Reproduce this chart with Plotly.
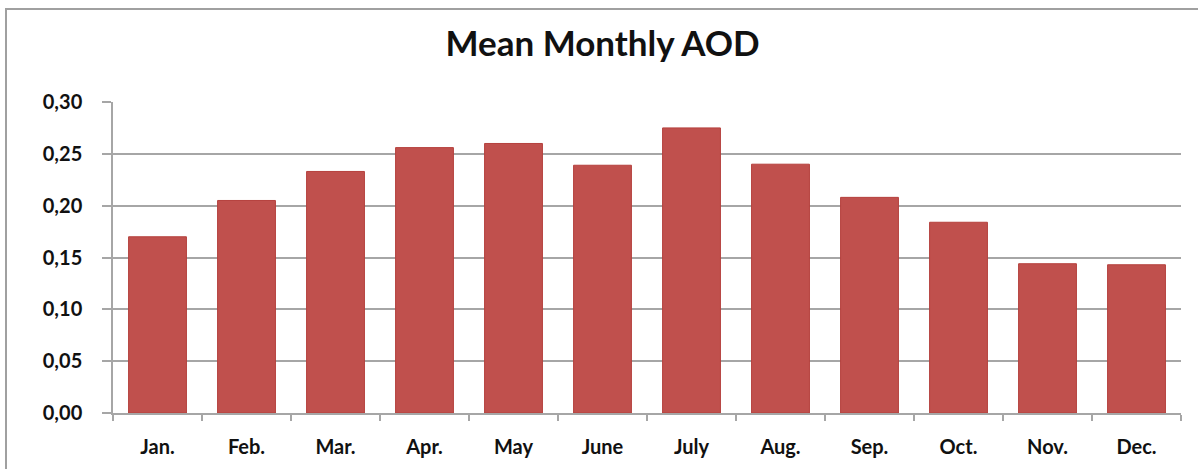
import plotly.graph_objects as go

# Mean monthly aerosol optical depth
months = ["Jan.", "Feb.", "Mar.", "Apr.", "May", "June",
          "July", "Aug.", "Sep.", "Oct.", "Nov.", "Dec."]
aod = [0.170, 0.205, 0.233, 0.256, 0.260, 0.239,
       0.275, 0.240, 0.208, 0.184, 0.144, 0.143]
y_ticks = [0.00, 0.05, 0.10, 0.15, 0.20, 0.25, 0.30]

W, H = 1198, 469
L, R, T, B = 113, 17, 102, 56
pw, ph = W - L - R, H - T - B

fig = go.Figure(go.Bar(
    x=months, y=aod,
    marker=dict(color="#C0504D", line=dict(color="#B5403D", width=1)),
    width=0.65,
))

grid = "#A6A6A6"
font_family = "Lato, 'Open Sans', sans-serif"
tick_font = dict(size=20, family=font_family, color="#111111", weight="bold")

fig.update_layout(
    width=W, height=H,
    margin=dict(l=L, r=R, t=T, b=B),
    paper_bgcolor="white", plot_bgcolor="white",
    separators=",.",
    showlegend=False,
    font=dict(family=font_family, color="#111111"),
    title=dict(text="Mean Monthly AOD", x=0.503, xref="container",
               xanchor="center", y=1 - 44 / H, yref="container", yanchor="middle",
               font=dict(size=35, family=font_family, color="#111111",
                         weight="bold")),
    xaxis=dict(
        type="category", showline=True, linecolor=grid, linewidth=1.5,
        ticks="outside", tickson="boundaries", ticklen=6, tickcolor=grid,
        tickwidth=1.5, showgrid=False,
        tickfont=tick_font,
        ticklabelstandoff=15,
    ),
    yaxis=dict(
        range=[0, 0.30], tickvals=y_ticks, tickformat=".2f",
        showgrid=True, gridcolor=grid, gridwidth=1.5,
        showline=True, linecolor=grid, linewidth=1.5,
        ticks="outside", ticklen=9, tickcolor=grid, tickwidth=1.5,
        zeroline=False,
        tickfont=tick_font,
        ticklabelstandoff=16,
    ),
    shapes=[dict(
        type="rect", xref="paper", yref="paper",
        x0=(6 - L) / pw, x1=(W + 10 - L) / pw,
        y0=(H - B - (H + 10)) / ph, y1=(H - B - 9) / ph,
        line=dict(color="#A0A0A0", width=2), layer="below",
    )],
)

fig.write_html("out.html")
